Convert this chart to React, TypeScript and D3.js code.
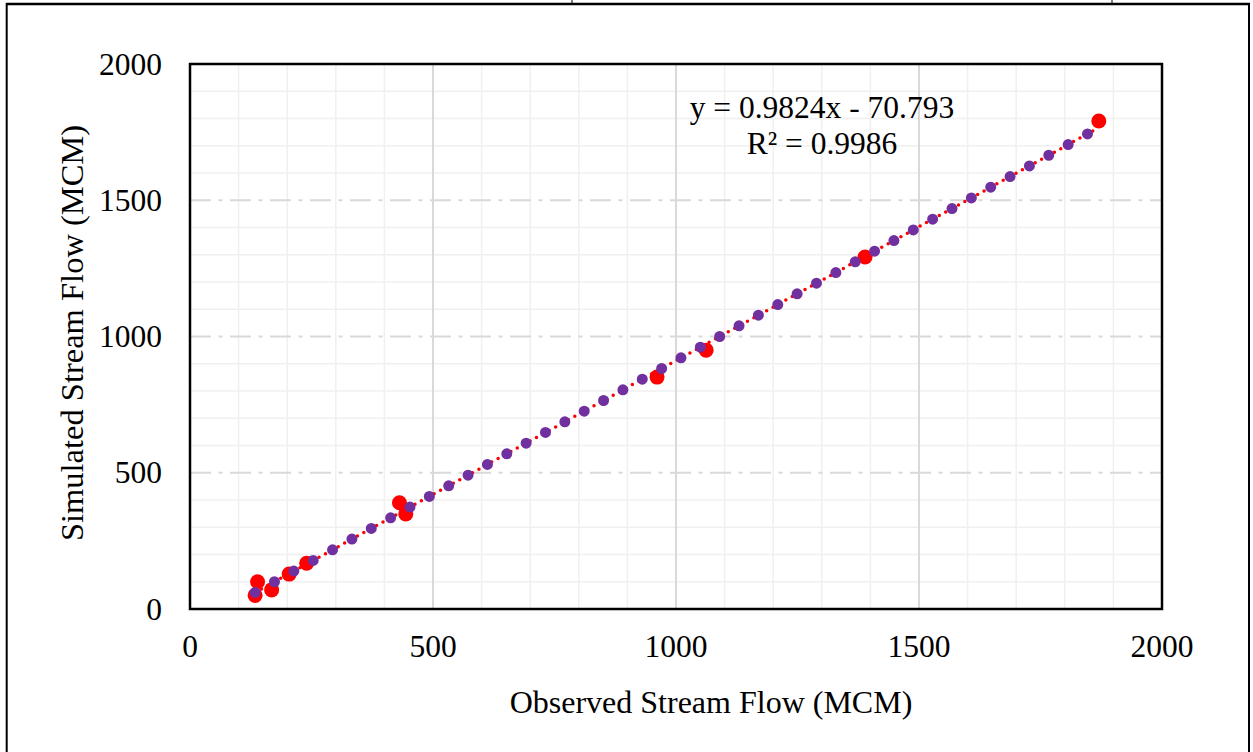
import React, { useEffect, useRef } from "react";
import * as d3 from "d3";

// observed vs simulated stream flow (MCM)
const observed = [134, 139, 168, 204, 240, 431, 444, 961, 1062, 1389, 1870];
const simulated = [50, 100, 70, 128, 168, 390, 349, 851, 950, 1292, 1791];

const slope = 0.9824;
const intercept = -70.793;
const rSquared = 0.9986;

const axisTicks = [0, 500, 1000, 1500, 2000];
const minorTicks = d3.range(0, 2001, 100);

const W = 1253;
const H = 752;
const FONT = "'Liberation Serif', 'Times New Roman', serif";

const App = () => {
  const svgRef = useRef<SVGSVGElement>(null);

  useEffect(() => {
    const svg = d3.select(svgRef.current);
    svg.selectAll("*").remove();

    const margin = { top: 64, left: 190 };
    const plotW = 972;
    const plotH = 545;

    const x = d3.scaleLinear().domain([0, 2000]).range([0, plotW]);
    const y = d3.scaleLinear().domain([0, 2000]).range([plotH, 0]);

    // page frame (table cell around the figure)
    svg.append("rect").attr("width", W).attr("height", H).attr("fill", "#fff");
    svg
      .append("line")
      .attr("x1", 6).attr("x2", 1250).attr("y1", 4).attr("y2", 4)
      .attr("stroke", "#000").attr("stroke-width", 2.5);
    [572, 1112].forEach((px) =>
      svg
        .append("line")
        .attr("x1", px).attr("x2", px).attr("y1", 0).attr("y2", 4)
        .attr("stroke", "#000").attr("stroke-width", 1)
    );
    [6.7, 1249].forEach((px) =>
      svg
        .append("line")
        .attr("x1", px).attr("x2", px).attr("y1", 3).attr("y2", H)
        .attr("stroke", "#000").attr("stroke-width", 2)
    );

    const chart = svg
      .append("g")
      .attr("transform", `translate(${margin.left},${margin.top})`);

    // minor grid
    chart
      .selectAll(".minor-x")
      .data(minorTicks.filter((t) => t % 500 !== 0))
      .enter()
      .append("line")
      .attr("x1", (d) => x(d)).attr("x2", (d) => x(d))
      .attr("y1", 0).attr("y2", plotH)
      .attr("stroke", "#f0f0f0").attr("stroke-width", 1.5);
    chart
      .selectAll(".minor-y")
      .data(minorTicks.filter((t) => t % 500 !== 0))
      .enter()
      .append("line")
      .attr("y1", (d) => y(d)).attr("y2", (d) => y(d))
      .attr("x1", 0).attr("x2", plotW)
      .attr("stroke", "#f0f0f0").attr("stroke-width", 1.5);

    // major grid: solid verticals, dash-dot horizontals
    chart
      .selectAll(".major-x")
      .data(axisTicks.slice(1, -1))
      .enter()
      .append("line")
      .attr("x1", (d) => x(d)).attr("x2", (d) => x(d))
      .attr("y1", 0).attr("y2", plotH)
      .attr("stroke", "#d9d9d9").attr("stroke-width", 2);
    chart
      .selectAll(".major-y")
      .data(axisTicks.slice(1, -1))
      .enter()
      .append("line")
      .attr("y1", (d) => y(d)).attr("y2", (d) => y(d))
      .attr("x1", 0).attr("x2", plotW)
      .attr("stroke", "#d9d9d9").attr("stroke-width", 2)
      .attr("stroke-dasharray", "21 7.5 4 7.5");

    // data points
    chart
      .selectAll(".pt")
      .data(observed.map((o, i) => [o, simulated[i]]))
      .enter()
      .append("circle")
      .attr("cx", (d) => x(d[0]))
      .attr("cy", (d) => y(d[1]))
      .attr("r", 7.5)
      .attr("fill", "#ff0000");

    // trendlines
    const xExt = d3.extent(observed) as [number, number];
    const fit = xExt.map((v) => [v, slope * v + intercept]);
    const line = d3
      .line<number[]>()
      .x((d) => x(d[0]))
      .y((d) => y(d[1]));

    chart
      .append("path")
      .attr("d", line(fit))
      .attr("fill", "none")
      .attr("stroke", "#ff0000")
      .attr("stroke-width", 3.5)
      .attr("stroke-linecap", "round")
      .attr("stroke-dasharray", "0 7.3");
    chart
      .append("path")
      .attr("d", line(fit))
      .attr("fill", "none")
      .attr("stroke", "#7030a0")
      .attr("stroke-width", 11)
      .attr("stroke-linecap", "round")
      .attr("stroke-dasharray", "0 22.1");

    // plot border
    chart
      .append("rect")
      .attr("width", plotW)
      .attr("height", plotH)
      .attr("fill", "none")
      .attr("stroke", "#000")
      .attr("stroke-width", 2.5);

    // tick labels
    chart
      .selectAll(".ylab")
      .data(axisTicks)
      .enter()
      .append("text")
      .attr("x", -28)
      .attr("y", (d) => y(d))
      .attr("dy", "0.34em")
      .attr("text-anchor", "end")
      .style("font-family", FONT)
      .style("font-size", "31.5px")
      .text((d) => d);

    chart
      .selectAll(".xlab")
      .data(axisTicks)
      .enter()
      .append("text")
      .attr("x", (d) => x(d))
      .attr("y", plotH + 48)
      .attr("text-anchor", "middle")
      .style("font-family", FONT)
      .style("font-size", "31.5px")
      .text((d) => d);

    // equation
    svg
      .append("text")
      .attr("x", 822)
      .attr("y", 118)
      .attr("text-anchor", "middle")
      .style("font-family", FONT)
      .style("font-size", "31.5px")
      .text(`y = ${slope}x - ${Math.abs(intercept)}`);
    svg
      .append("text")
      .attr("x", 822)
      .attr("y", 154)
      .attr("text-anchor", "middle")
      .style("font-family", FONT)
      .style("font-size", "31.5px")
      .text(`R² = ${rSquared}`);

    // axis titles
    svg
      .append("text")
      .attr("x", 711)
      .attr("y", 713)
      .attr("text-anchor", "middle")
      .style("font-family", FONT)
      .style("font-size", "32px")
      .text("Observed Stream Flow (MCM)");

    svg
      .append("text")
      .attr("transform", "rotate(-90)")
      .attr("x", -333)
      .attr("y", 83)
      .attr("text-anchor", "middle")
      .style("font-family", FONT)
      .style("font-size", "32.5px")
      .text("Simulated Stream Flow (MCM)");
  }, []);

  return (
    <svg
      ref={svgRef}
      width={W}
      height={H}
      style={{ position: "absolute", left: 0, top: 0 }}
    ></svg>
  );
};

export default App;
